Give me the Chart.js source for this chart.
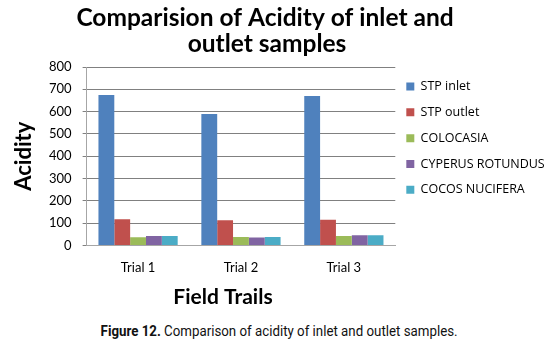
<!DOCTYPE html>
<html>
<head>
<meta charset="utf-8">
<script src="https://cdn.jsdelivr.net/npm/chart.js@4"></script>
<style>
  html, body { margin: 0; padding: 0; background: #fff; }
  #wrap { position: relative; width: 559px; height: 312px; }
  #caption {
    position: absolute;
    left: 0;
    top: 321px;
    width: 559px;
    text-align: center;
    font-family: Roboto, "Liberation Sans", sans-serif;
    font-size: 15.5px;
    line-height: 20px;
    color: #111;
  }
  #caption span { display: inline-block; white-space: nowrap; transform-origin: center; }
  #caption b { font-weight: bold; }
</style>
</head>
<body>
<div id="wrap"><canvas id="acidChart"></canvas></div>
<div id="caption"><span><b>Figure 12.</b> Comparison of acidity of inlet and outlet samples.</span></div>
<script>
(() => {
  "use strict";

  const trials = ["Trial 1", "Trial 2", "Trial 3"];
  const stpInlet = [674, 589, 670];
  const stpOutlet = [117, 113, 115];
  const colocasia = [37, 38, 42];
  const cyperusRotundus = [42, 35, 45];
  const cocosNucifera = [42, 38, 45];
  const yTicks = [0, 100, 200, 300, 400, 500, 600, 700, 800];
  const titleLines = ["Comparision of Acidity of inlet and", "outlet samples"];
  const xTitle = "Field Trails";
  const yTitle = "Acidity";

  const FONT = "Lato, 'Open Sans', sans-serif";
  const LEGEND_FONT = "'Open Sans', Lato, sans-serif";
  const GRID = "#808080";
  const AXIS = "#a6a6a6";
  const CAPTION_WIDTH = 357;
  const LEGEND_PAD = 13.3;
  const LEGEND_GAP = 11;

  const series = [
    { label: "STP inlet", data: stpInlet, colour: "#4F81BD" },
    { label: "STP outlet", data: stpOutlet, colour: "#C0504D" },
    { label: "COLOCASIA", data: colocasia, colour: "#9BBB59" },
    { label: "CYPERUS ROTUNDUS", data: cyperusRotundus, colour: "#8064A2" },
    { label: "COCOS NUCIFERA", data: cocosNucifera, colour: "#4BACC6" }
  ];

  // Excel-style titles: main title and x title are not centred on the plot
  const titlesPlugin = {
    id: "excelTitles",
    afterLayout(chart) {
      // pull the legend in closer to the plot, like Excel does
      const lg = chart.legend;
      if (!lg) return;
      const dx = lg.left + LEGEND_PAD - (chart.chartArea.right + LEGEND_GAP);
      lg.left -= dx;
      lg.right -= dx;
    },
    afterDraw(chart) {
      const c = chart.ctx;
      c.save();
      c.fillStyle = "#000";
      c.textAlign = "center";
      c.textBaseline = "alphabetic";
      c.font = `bold 24.5px ${FONT}`;
      c.fillText(titleLines[0], 265, 26);
      c.fillText(titleLines[1], 267, 52);
      c.font = `bold 21px ${FONT}`;
      c.fillText(xTitle, 223, 304);
      c.restore();
    }
  };

  function fitCaption() {
    const span = document.querySelector("#caption span");
    const w = span.getBoundingClientRect().width;
    if (w > 0) span.style.transform = `scaleX(${CAPTION_WIDTH / w})`;
  }

  function drawChart() {
    const ctx = document.getElementById("acidChart").getContext("2d");

    new Chart(ctx, {
      type: "bar",
      data: {
        labels: trials,
        datasets: series.map((s) => ({
          label: s.label,
          data: s.data,
          backgroundColor: s.colour,
          borderWidth: 0,
          categoryPercentage: 0.77,
          barPercentage: 1.0
        }))
      },
      options: {
        responsive: true,
        maintainAspectRatio: false,
        animation: false,
        layout: { padding: { left: 13, right: 2, top: 67, bottom: 21 } },
        scales: {
          x: {
            grid: { display: false, drawTicks: false },
            border: { color: AXIS },
            ticks: { color: "#000", padding: 15, font: { family: FONT, size: 13 } }
          },
          y: {
            min: 0,
            max: 800,
            afterBuildTicks(axis) {
              axis.ticks = yTicks.map((v) => ({ value: v }));
            },
            grid: { color: GRID, drawTicks: true, tickLength: 4 },
            border: { color: AXIS },
            ticks: { color: "#000", padding: 11, font: { family: FONT, size: 13 } },
            title: {
              display: true,
              text: yTitle,
              color: "#000",
              padding: { top: 0, bottom: 3 },
              font: { family: FONT, size: 22, weight: "bold", lineHeight: 1.0 }
            }
          }
        },
        plugins: {
          title: { display: false },
          legend: {
            position: "right",
            align: "start",
            maxWidth: 220,
            labels: {
              color: "#000",
              boxWidth: 8,
              boxHeight: 8,
              padding: LEGEND_PAD,
              font: { family: LEGEND_FONT, size: 12.5 }
            }
          },
          tooltip: { enabled: false }
        }
      },
      plugins: [titlesPlugin]
    });

    fitCaption();
  }

  const fontLoads = [
    "bold 24px Lato", "13px Lato", "12px 'Open Sans'",
    "15px Roboto", "bold 15px Roboto"
  ].map((f) => document.fonts.load(f));

  Promise.all(fontLoads).then(drawChart, drawChart);
})();
</script>
</body>
</html>
